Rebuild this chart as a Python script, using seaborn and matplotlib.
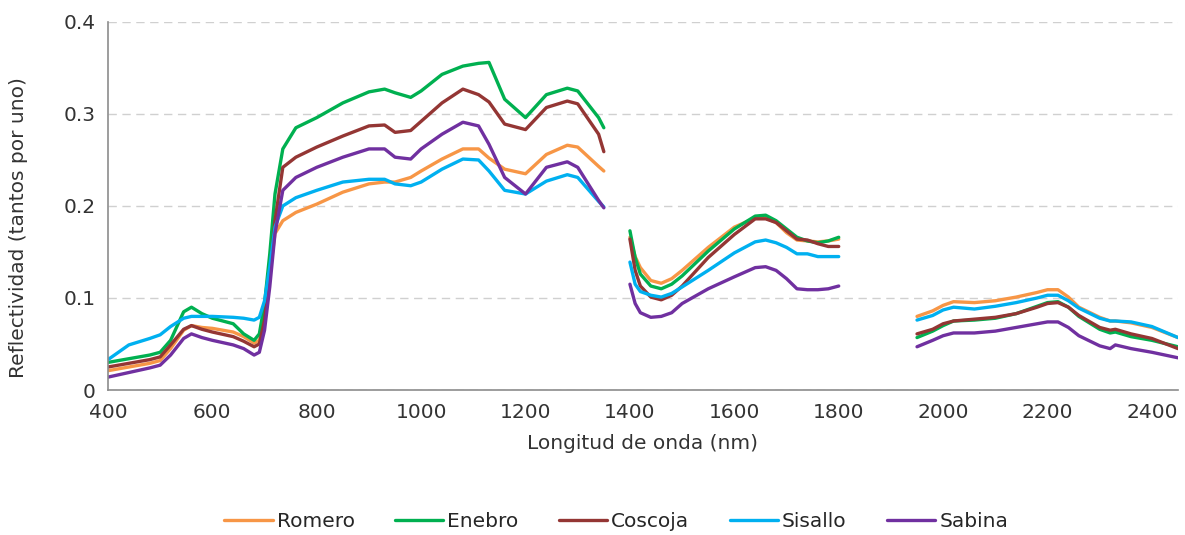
import pandas as pd
import numpy as np
import seaborn as sns
import matplotlib.pyplot as plt

# longitudes de onda de cada tramo (nm)
wl_1 = [400, 440, 480, 500, 520, 545, 560, 580, 600, 640, 660, 680, 690, 700, 710, 720, 735, 760,
        800, 850, 900, 930, 950, 980, 1000, 1040, 1080, 1110, 1130, 1160, 1200, 1240, 1280, 1300, 1340, 1350]
wl_2 = [1400, 1410, 1420, 1440, 1460, 1480, 1500, 1550, 1600, 1640, 1660, 1680, 1700, 1720, 1740, 1760, 1780, 1800]
wl_3 = [1950, 1980, 2000, 2020, 2060, 2100, 2140, 2180, 2200, 2220, 2240, 2260, 2300, 2320, 2330, 2360, 2400, 2450]

especies = ['Romero', 'Enebro', 'Coscoja', 'Sisallo', 'Sabina']

romero_1 = [.021, .025, .029, .032, .045, .065, .070, .068, .067, .063, .058, .051, .054, .076, .126, .170, .184, .193,
            .202, .215, .224, .226, .226, .231, .238, .251, .262, .262, .252, .240, .235, .256, .266, .264, .243, .238]
romero_2 = [.166, .145, .133, .119, .116, .121, .130, .155, .177, .187, .187, .182, .171, .163, .162, .161, .162, .164]
romero_3 = [.080, .086, .092, .096, .095, .097, .101, .106, .109, .109, .101, .090, .079, .075, .075, .073, .068, .057]

enebro_1 = [.030, .034, .038, .041, .054, .085, .090, .083, .078, .072, .061, .054, .061, .094, .148, .213, .262, .285,
            .296, .312, .324, .327, .323, .318, .325, .343, .352, .355, .356, .316, .296, .321, .328, .325, .296, .285]
enebro_2 = [.173, .144, .126, .113, .110, .115, .124, .151, .175, .189, .190, .184, .175, .166, .162, .160, .162, .166]
enebro_3 = [.057, .064, .070, .075, .076, .078, .083, .091, .095, .096, .090, .080, .066, .062, .063, .058, .054, .047]

coscoja_1 = [.025, .029, .033, .036, .049, .066, .070, .066, .063, .058, .053, .047, .050, .076, .126, .184, .242, .253,
             .264, .276, .287, .288, .280, .282, .292, .312, .327, .321, .313, .289, .283, .307, .314, .311, .278, .259]
coscoja_2 = [.164, .130, .113, .101, .098, .103, .113, .144, .169, .186, .186, .182, .173, .164, .163, .159, .156, .156]
coscoja_3 = [.061, .066, .072, .075, .077, .079, .083, .090, .094, .095, .090, .081, .068, .065, .066, .061, .056, .045]

sisallo_1 = [.033, .049, .056, .060, .069, .078, .080, .080, .080, .079, .078, .076, .079, .097, .134, .177, .200, .209,
             .217, .226, .229, .229, .224, .222, .226, .240, .251, .250, .238, .217, .213, .227, .234, .231, .205, .199]
sisallo_2 = [.139, .115, .107, .103, .101, .105, .112, .130, .149, .161, .163, .160, .155, .148, .148, .145, .145, .145]
sisallo_3 = [.076, .081, .087, .090, .088, .091, .095, .100, .103, .103, .097, .089, .078, .075, .075, .074, .069, .057]

sabina_1 = [.014, .019, .024, .027, .038, .056, .061, .057, .054, .049, .045, .038, .041, .065, .112, .170, .217, .231,
            .242, .253, .262, .262, .253, .251, .262, .278, .291, .287, .267, .231, .213, .242, .248, .242, .206, .198]
sabina_2 = [.115, .094, .084, .079, .080, .084, .094, .110, .123, .133, .134, .130, .121, .110, .109, .109, .110, .113]
sabina_3 = [.047, .054, .059, .062, .062, .064, .068, .072, .074, .074, .068, .059, .048, .045, .049, .045, .041, .035]

valores = {
    'Romero': [romero_1, romero_2, romero_3],
    'Enebro': [enebro_1, enebro_2, enebro_3],
    'Coscoja': [coscoja_1, coscoja_2, coscoja_3],
    'Sisallo': [sisallo_1, sisallo_2, sisallo_3],
    'Sabina': [sabina_1, sabina_2, sabina_3],
}
colores = ['#F79646', '#00B050', '#943634', '#00B0F0', '#7030A0']

# tabla larga
filas = []
for esp in especies:
    for tramo, wl in enumerate([wl_1, wl_2, wl_3]):
        for w, r in zip(wl, valores[esp][tramo]):
            filas.append({'especie': esp, 'tramo': tramo, 'wl': w, 'refl': r})
data = pd.DataFrame(filas)

sns.set_style('white')
plt.rcParams['font.family'] = ['DejaVu Sans']

fig = plt.figure(figsize=(11.85, 5.35), dpi=100)
ax = fig.add_axes([0.0911, 0.271, 0.903, 0.688])

sns.lineplot(data=data, x='wl', y='refl', hue='especie', units='tramo', estimator=None,
             hue_order=especies, palette=colores, linewidth=2.4, ax=ax, legend=True)

ax.set_xlim(400, 2450)
ax.set_ylim(0, 0.4)
ax.set_xticks(np.arange(400, 2401, 200))
ax.set_yticks([0, 0.1, 0.2, 0.3, 0.4])
ax.set_yticklabels(['0', '0.1', '0.2', '0.3', '0.4'])
ax.yaxis.grid(True, linestyle=(0, (6, 4)), color='#D0D0D0', linewidth=1)
ax.set_axisbelow(True)

for s in ['top', 'right']:
    ax.spines[s].set_visible(False)
for s in ['left', 'bottom']:
    ax.spines[s].set_color('#8C8C8C')
    ax.spines[s].set_linewidth(1.2)
ax.tick_params(axis='x', direction='out', length=5, color='#8C8C8C', labelsize=14.5, pad=4,
               labelcolor='#333333')
ax.tick_params(axis='y', direction='inout', length=10, color='#8C8C8C', labelsize=14.5, pad=4,
               labelcolor='#333333')

ax.set_xlabel('Longitud de onda (nm)', fontsize=14.5, labelpad=9, color='#333333')
ax.set_ylabel('Reflectividad (tantos por uno)', fontsize=14.5, labelpad=24, color='#333333')
ax.yaxis.set_label_coords(-0.075, 0.44)

ax.legend_.remove()
handles, labels = ax.get_legend_handles_labels()
fig.legend(handles, labels, loc='center', bbox_to_anchor=(0.52, 0.026), ncol=5, frameon=False,
           fontsize=14.5, handlelength=2.4, handletextpad=0.2, columnspacing=2.0)

fig.savefig('out.png', dpi=100)
